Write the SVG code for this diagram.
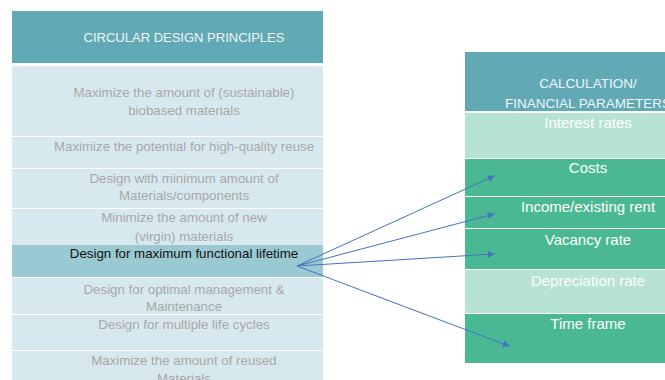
<svg xmlns="http://www.w3.org/2000/svg" width="665" height="380" viewBox="0 0 665 380">
<defs>
<style>
.hdr{fill:#62a9b6}
.lrow{fill:#d7e9ee}
.hl{fill:#9bc9d2}
.mint{fill:#b7e3d5}
.grn{fill:#4ab993}
text{font-family:"Liberation Sans",Arial,sans-serif;text-anchor:middle}
.ht{fill:#eef6f7;font-size:13px}
.lt{fill:#a8a8a8;font-size:13.3px}
.bt{fill:#111111;font-size:13.3px}
.rt{fill:#ffffff;font-size:15px}
.rht{fill:#eef6f7;font-size:13.5px}
.conn{stroke:#4472c4;stroke-width:1;fill:none;marker-end:url(#ah)}
</style>
<marker id="ah" viewBox="0 0 10 10" refX="9" refY="5" markerWidth="7" markerHeight="7" markerUnits="userSpaceOnUse" orient="auto">
<path d="M0,0 L10,5 L0,10 z" fill="#4472c4"/>
</marker>
</defs>
<rect width="665" height="380" fill="#ffffff"/>
<g id="left-header"><rect class="hdr" x="12" y="11" width="311" height="52"/><text class="ht" x="184" y="42">CIRCULAR DESIGN PRINCIPLES</text></g>
<g id="p1"><rect class="lrow" x="12" y="66" width="311" height="70"/><text class="lt" x="184" y="97">Maximize the amount of (sustainable)</text><text class="lt" x="184" y="115">biobased materials</text></g>
<g id="p2"><rect class="lrow" x="12" y="137" width="311" height="31"/><text class="lt" x="184" y="151">Maximize the potential for high-quality reuse</text></g>
<g id="p3"><rect class="lrow" x="12" y="169" width="311" height="39"/><text class="lt" x="184" y="183">Design with minimum amount of</text><text class="lt" x="184" y="200">Materials/components</text></g>
<g id="p4"><rect class="lrow" x="12" y="209" width="311" height="36"/><text class="lt" x="184" y="222">Minimize the amount of new</text><text class="lt" x="184" y="241">(virgin) materials</text></g>
<g id="p5"><rect class="hl" x="12" y="245" width="311" height="32"/><text class="bt" x="184" y="258">Design for maximum functional lifetime</text></g>
<g id="p6"><rect class="lrow" x="12" y="278" width="311" height="36"/><text class="lt" x="184" y="294">Design for optimal management &amp;</text><text class="lt" x="184" y="311">Maintenance</text></g>
<g id="p7"><rect class="lrow" x="12" y="315" width="311" height="35"/><text class="lt" x="184" y="329">Design for multiple life cycles</text></g>
<g id="p8"><rect class="lrow" x="12" y="351" width="311" height="40"/><text class="lt" x="184" y="365">Maximize the amount of reused</text><text class="lt" x="184" y="383">Materials</text></g>
<g id="right-header"><rect class="hdr" x="465" y="52" width="210" height="59"/><text class="rht" x="588" y="88">CALCULATION/</text><text class="rht" x="588" y="108">FINANCIAL PARAMETERS</text></g>
<g id="interest"><rect class="mint" x="465" y="113" width="210" height="45"/><text class="rt" x="588" y="128">Interest rates</text></g>
<g id="costs"><rect class="grn" x="465" y="159" width="210" height="37"/><text class="rt" x="588" y="173">Costs</text></g>
<g id="income"><rect class="grn" x="465" y="197" width="210" height="31"/><text class="rt" x="588" y="212">Income/existing rent</text></g>
<g id="vacancy"><rect class="grn" x="465" y="229" width="210" height="40"/><text class="rt" x="588" y="245">Vacancy rate</text></g>
<g id="depreciation"><rect class="mint" x="465" y="270" width="210" height="43"/><text class="rt" x="588" y="286">Depreciation rate</text></g>
<g id="timeframe"><rect class="grn" x="465" y="314" width="210" height="49"/><text class="rt" x="588" y="329">Time frame</text></g>
<g id="connectors">
<line class="conn" x1="297" y1="266" x2="494" y2="176"/>
<line class="conn" x1="297" y1="266" x2="494" y2="214"/>
<line class="conn" x1="297" y1="266" x2="494" y2="254"/>
<line class="conn" x1="297" y1="266" x2="509" y2="346"/>
</g>
</svg>
